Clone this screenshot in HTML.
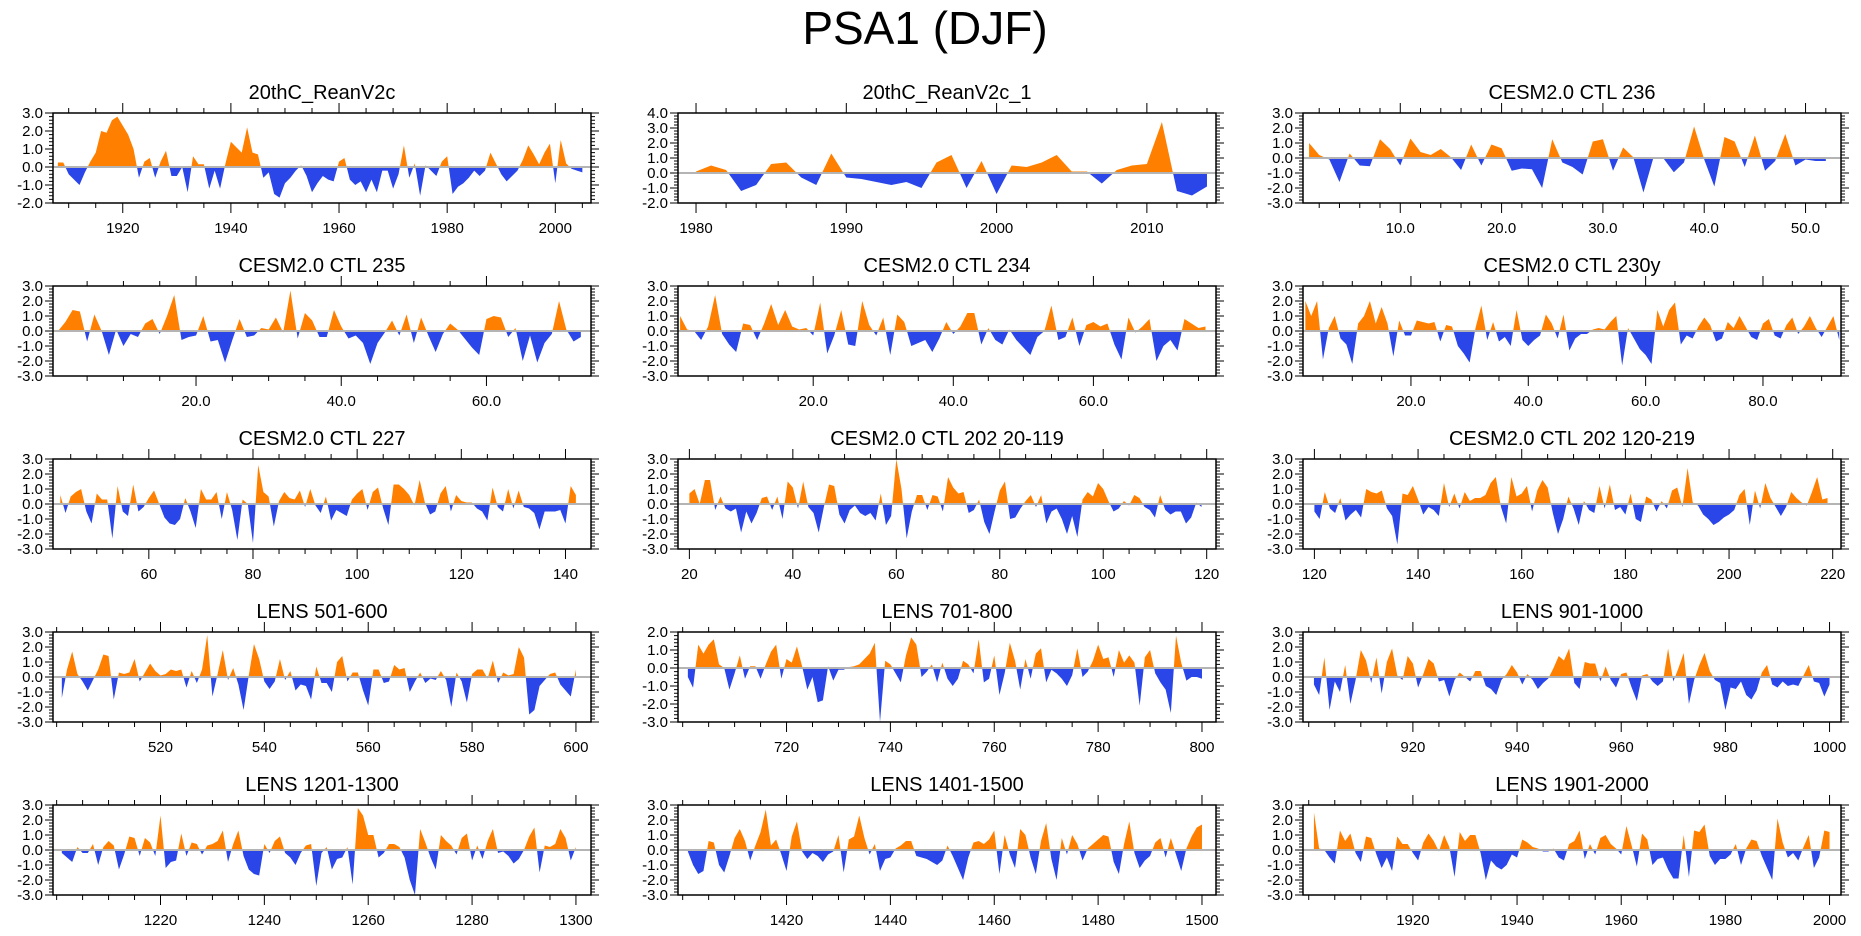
<!DOCTYPE html>
<html><head><meta charset="utf-8"><title>PSA1 (DJF)</title>
<style>
html,body{margin:0;padding:0;background:#fff;}
svg{display:block;font-family:"Liberation Sans",sans-serif;}
</style></head>
<body>
<svg id="chart" width="1861" height="936" viewBox="0 0 1861 936" xmlns="http://www.w3.org/2000/svg">
<rect width="1861" height="936" fill="#fff"/>
<text x="925" y="44" font-size="46" text-anchor="middle" fill="#000">PSA1 (DJF)</text>
</svg>
<script>
// ---- data arrays ----
const titles = ["20thC_ReanV2c","20thC_ReanV2c_1","CESM2.0 CTL 236","CESM2.0 CTL 235","CESM2.0 CTL 234","CESM2.0 CTL 230y","CESM2.0 CTL 227","CESM2.0 CTL 202 20-119","CESM2.0 CTL 202 120-219","LENS 501-600","LENS 701-800","LENS 901-1000","LENS 1201-1300","LENS 1401-1500","LENS 1901-2000"];
const startYears = [1908,1980,1,1,1,2,43,20,120,501,701,901,1201,1401,1901];
const xMins = [1907.1,1978.8,0.4,0.3,0.7,1.6,41.6,17.8,117.8,499.3,699.1,898.9,1199.3,1399.1,1898.9];
const xMaxs = [2006.6,2014.6,53.5,74.4,77.5,93.3,144.9,121.8,221.6,602.9,802.7,1002.2,1302.9,1502.7,2002.2];
const yMins = [-2,-2,-3,-3,-3,-3,-3,-3,-3,-3,-3,-3,-3,-3,-3];
const yMaxs = [3,4,3,3,3,3,3,3,3,3,2,3,3,3,3];
const xMajorTicks = [[1920,1940,1960,1980,2000],[1980,1990,2000,2010],[10,20,30,40,50],[20,40,60],[20,40,60],[20,40,60,80],[60,80,100,120,140],[20,40,60,80,100,120],[120,140,160,180,200,220],[520,540,560,580,600],[720,740,760,780,800],[920,940,960,980,1000],[1220,1240,1260,1280,1300],[1420,1440,1460,1480,1500],[1920,1940,1960,1980,2000]];
const xMinorSteps = [5,2,2,5,5,5,5,5,5,5,5,5,5,5,5];
const xLabelDecimals = [0,0,1,1,1,1,0,0,0,0,0,0,0,0,0];

const s0 = [0.25,0.25,-0.4,-0.7,-1.0,-0.3,0.3,0.8,2.0,1.9,2.6,2.8,2.3,1.8,1.0,-0.6,0.3,0.5,-0.6,0.3,0.9,-0.5,-0.5,0,-1.4,0.6,0.15,0.15,-1.2,-0.2,-1.2,0.2,1.4,1.1,0.8,2.2,0.8,0.7,-0.6,-0.3,-1.5,-1.7,-0.9,-0.6,-0.2,0.1,-0.5,-1.4,-0.9,-0.5,-0.7,-0.8,0.3,0.5,-0.7,-1.0,-0.8,-1.4,-0.7,-1.4,-0.2,-0.2,-1.2,-0.4,1.2,-0.6,0.2,-1.6,0.1,-0.2,-0.5,0.3,0.6,-1.5,-1.1,-0.9,-0.6,-0.2,-0.5,-0.2,0.8,0.2,-0.4,-0.8,-0.5,-0.2,0.4,1.2,0.7,0.15,0.8,1.3,-0.9,1.5,0.2,-0.1,-0.2,-0.3];
const s1 = [0.1,0.5,0.2,-1.2,-0.8,0.6,0.7,-0.3,-0.8,1.3,-0.3,-0.4,-0.6,-0.8,-0.6,-1.0,0.7,1.2,-1.0,0.8,-1.4,0.5,0.4,0.7,1.2,0.1,0.1,-0.7,0.2,0.5,0.6,3.4,-1.2,-1.5,-0.9];
const s2 = [1.0,0.2,-0.1,-1.6,0.3,-0.5,-0.55,1.25,0.6,-0.5,1.3,0.4,0.2,0.6,0.05,-0.8,0.9,-0.5,0.9,0.65,-0.85,-0.7,-0.75,-2.0,1.25,-0.3,-0.6,-1.1,1.1,1.25,-0.85,0.7,0.05,-2.3,0.05,-0.05,-0.95,-0.3,2.1,-0.1,-1.9,1.4,1.1,-0.6,1.5,-0.85,-0.2,1.6,-0.5,-0.1,-0.2,-0.2];
const s3 = [0.0,0.6,1.4,1.3,-0.7,1.1,0.0,-1.6,0.1,-1.0,-0.2,-0.4,0.5,0.8,-0.2,1.0,2.4,-0.6,-0.4,-0.3,1.0,-0.7,-0.6,-2.1,-0.6,0.8,-0.4,-0.3,0.2,0.1,0.9,-0.1,2.7,-0.5,1.2,0.7,-0.4,-0.4,1.4,0.3,-0.5,-0.3,-0.8,-2.2,-0.8,-0.1,0.7,-0.3,1.1,-0.8,0.9,-0.3,-1.4,-0.2,0.5,0.1,-0.5,-1.1,-1.6,0.8,1.0,0.9,-0.4,0.2,-2.0,-0.3,-2.1,-0.8,-0.2,2.0,0.1,-0.7,-0.4];
const s4 = [1.0,0.1,0.0,-0.6,0.3,2.4,-0.2,-0.9,-1.4,0.5,0.4,-0.6,0.5,1.8,0.4,1.4,0.3,0.1,0.2,-0.3,1.9,-1.5,-0.3,1.4,-0.9,-1.0,2.0,0.4,-0.3,0.9,-1.6,1.1,0.6,-1.0,-0.8,-0.6,-1.4,-0.5,0.6,-0.2,0.3,1.2,1.2,-0.9,0.2,-0.6,-0.9,0.1,-0.6,-1.1,-1.6,-0.4,0.0,1.7,-0.6,-0.4,0.9,-1.0,0.4,0.6,0.3,0.5,-0.9,-1.9,0.9,-0.1,0.3,0.8,-2.0,-1.0,-0.6,-1.3,0.8,0.5,0.2,0.3];
const s5 = [2.0,1.0,2.0,-1.9,0.2,1.0,-0.5,-0.9,-2.2,0.5,1.0,2.0,0.5,1.6,0.5,-1.7,0.7,-0.3,-0.3,0.7,0.6,0.5,0.6,-0.7,0.4,0.3,-1.0,-1.5,-2.1,0.2,1.7,-0.6,0.6,-0.7,-0.4,-1.0,1.4,-0.6,-1.0,-0.6,-0.3,1.1,0.5,-0.5,1.1,-1.3,-0.5,-0.2,-0.2,0.1,0.2,0.1,0.6,1.0,-2.3,0.2,-0.5,-1.2,-1.6,-2.2,1.4,0.3,1.4,1.9,-0.9,-0.3,-0.5,0.3,0.9,0.4,-0.7,-0.5,0.6,0.2,1.0,0.3,-0.4,-0.6,0.5,0.8,-0.3,-0.5,0.4,0.9,-0.2,0.3,1.0,0.2,-0.4,0.3,1.0,-0.6];
const s6 = [0.6,-0.6,0.5,0.8,1.0,-0.5,-1.3,0.7,0.3,0.3,-2.3,1.2,-0.5,-0.8,1.3,-0.5,-0.2,0.4,0.9,0.0,-0.9,-1.3,-1.4,-1.0,0.4,-0.5,-1.6,1.0,0.3,0.3,0.8,-1.0,0.8,-0.4,-2.4,0.3,0.0,-2.6,2.6,0.8,0.5,-1.5,0.2,0.8,0.4,0.3,0.9,-0.2,1.0,-0.1,-0.6,0.5,-1.1,-0.4,-0.6,-0.8,0.3,0.7,1.0,-0.4,0.8,1.1,-0.3,-1.4,1.3,1.3,1.0,0.6,-0.1,1.6,0.1,-0.7,-0.5,0.7,1.2,-0.5,0.6,0.2,0.1,0.1,-0.3,-0.5,-1.1,1.1,-0.2,-0.5,1.0,-0.3,0.9,-0.2,-0.3,-0.6,-1.7,-0.5,-0.5,-0.5,-0.4,-1.3,1.2,0.6];
const s7 = [0.7,1.0,0.0,1.6,1.6,-0.4,0.5,-0.3,-0.5,-0.3,-1.9,-0.5,-1.3,-0.6,0.4,0.5,-0.4,0.5,-1.0,1.5,1.1,-0.3,1.5,-0.2,-0.6,-1.9,-0.2,1.3,1.2,-0.7,-1.3,-0.4,-0.1,-0.6,-0.8,-0.6,-1.1,0.7,-1.4,-0.8,3.0,1.0,-2.3,-0.5,0.6,0.6,-0.4,0.6,0.5,-0.5,1.8,1.1,0.7,0.8,-0.6,-0.4,0.3,-1.2,-2.0,-0.5,0.9,1.5,-1.0,-0.9,-0.3,0.2,0.6,-0.2,0.6,-1.3,-0.5,-0.3,-1.0,-2.0,-0.8,-2.2,0.3,0.8,0.5,1.4,1.0,0.2,-0.5,-0.3,0.2,-0.1,0.6,0.4,-0.2,-0.4,-0.9,0.6,-0.4,-0.7,-0.5,-0.5,-1.3,-0.9,0.1,-0.2];
const s8 = [-0.5,-1.0,0.8,-0.3,-0.6,0.4,-1.1,-0.7,-0.4,-0.9,1.0,0.8,0.7,0.9,-0.3,-0.8,-2.7,0.7,0.6,1.2,0.3,-0.7,-0.2,-0.4,-0.8,1.4,-0.2,0.7,-0.3,0.8,0.2,0.4,0.4,0.6,1.4,1.8,-0.2,-1.3,1.8,0.5,0.7,1.2,-0.5,0.9,1.6,1.1,-0.6,-2.0,-1.0,0.5,-0.3,-1.4,0.2,-0.4,-0.6,1.2,-0.3,1.3,-0.4,-0.2,-0.7,0.7,-1.0,-1.2,0.5,0.3,-0.5,0.2,-0.3,0.9,1.1,-0.2,2.4,0.1,-0.1,-0.7,-1.0,-1.4,-1.2,-0.9,-0.7,-0.4,0.6,1.0,-1.4,0.9,-0.3,1.4,0.4,-0.2,-0.8,-0.2,0.8,0.4,0.1,-0.1,0.8,1.8,0.3,0.4];
const s9 = [-1.4,0.5,1.7,0.2,-0.3,-0.9,-0.2,0.5,1.5,1.4,-1.5,0.3,0.2,0.3,1.2,-0.3,0.3,0.9,0.4,0.1,0.2,0.5,0.4,0.5,-0.7,0.4,-0.4,0.5,2.8,-1.3,0.2,1.8,-0.2,0.6,-0.5,-2.2,0.1,2.2,1.2,-0.3,-0.8,-0.3,1.2,-0.2,0.4,-0.9,-0.5,-0.6,-1.5,0.7,-0.4,-0.4,-1.0,1.0,1.4,-0.3,0.3,0.3,-0.9,-1.9,0.5,0.5,-0.4,-0.3,0.8,0.5,0.6,-1.0,-0.3,0.3,-0.4,-0.1,-0.2,0.4,-0.2,-2.0,0.3,-0.3,-1.7,0.2,0.5,0.5,-0.1,1.1,-0.4,0.3,0.1,0.2,2.0,1.3,-2.5,-2.2,-0.6,-0.2,0.2,0.3,-0.5,-0.9,-1.3,0.5];
const s10 = [-0.5,-1.1,1.3,0.8,1.3,1.6,0.2,0.0,-1.2,-0.3,0.7,-0.6,0.1,0.1,-0.6,0.2,0.9,1.3,-0.6,0.5,0.3,1.2,0.1,-1.2,-0.5,-1.9,-1.8,0.1,-0.7,-0.1,-0.1,0.05,0.1,0.2,0.5,0.8,1.4,-3.0,0.4,0.2,-0.3,-0.8,0.7,1.7,1.3,-0.5,-0.2,0.2,-0.8,0.3,-0.6,-1.0,-0.6,0.4,0.2,-0.3,1.6,-0.8,-0.6,0.7,-1.5,-0.3,1.4,0.4,-1.2,0.5,-0.6,0.8,1.1,-0.8,-0.1,-0.3,-0.6,-1.0,-0.4,1.1,-0.5,-0.2,0.4,1.3,0.5,0.6,-0.5,1.0,0.3,0.7,0.3,-2.1,0.6,1.0,-0.3,-0.8,-1.2,-2.5,1.8,0.3,-0.7,-0.5,-0.5,-0.6];
const s11 = [-0.5,-1.2,1.3,-2.2,-0.3,-1.0,0.8,-1.8,-0.2,1.8,1.1,-0.4,1.3,-1.1,1.0,1.9,0.1,-0.2,1.4,0.9,-0.7,0.2,1.2,0.9,-0.3,-0.2,-1.3,-0.2,0.3,0.0,-0.3,0.4,0.4,-0.6,-0.8,-1.2,-0.2,0.2,0.8,0.3,-0.5,0.2,-0.2,-0.8,-0.4,-0.1,0.6,1.4,1.1,1.9,-0.4,-0.8,1.0,0.9,0.9,-0.3,0.7,-0.2,-0.7,0.2,0.3,-0.7,-1.6,0.1,0.2,-0.3,-0.6,-0.3,1.9,-0.3,0.6,1.6,-1.8,-0.2,0.8,1.6,0.4,-0.2,-0.4,-2.2,-0.7,-0.8,-0.3,-1.2,-1.5,-0.9,0.3,0.8,-0.5,-0.7,-0.3,-0.6,-0.5,-0.6,0.1,0.8,-0.3,-0.4,-1.3,-0.5];
const s12 = [-0.2,-0.5,-0.8,0.2,-0.2,-0.2,0.4,-1.0,0.2,0.6,0.3,-1.3,-0.3,0.9,0.8,-0.4,0.8,0.5,-0.4,2.3,-1.2,-0.8,-0.7,1.1,-0.4,0.5,0.4,-0.3,0.3,0.4,0.6,1.3,-0.8,0.4,1.3,-0.4,-1.3,-1.6,-1.7,0.4,-0.2,0.6,0.9,-0.2,-0.5,-1.0,-0.2,0.3,0.4,-2.4,-0.2,0.2,-1.3,-0.6,-0.5,0.2,-2.3,2.8,2.3,1.0,1.0,-0.5,-0.2,0.4,0.4,0.2,-0.5,-2.0,-3.0,1.4,0.5,-0.5,-1.3,1.0,0.6,0.3,-0.3,0.8,1.1,-0.7,0.3,-0.6,0.6,1.4,-0.2,-0.1,-0.4,-0.9,-0.6,0.0,0.9,1.5,-1.5,0.3,0.2,0.4,1.4,0.8,-0.7,0.2];
const s13 = [-0.1,-1.0,-1.6,-1.4,0.6,0.5,-1.0,-1.5,-0.4,0.8,1.4,0.6,-0.7,0.3,1.2,2.7,0.3,0.7,-0.3,-1.4,0.9,1.9,-0.1,-0.6,-0.2,-0.4,-0.8,-0.3,-0.1,1.0,-1.5,0.7,0.9,2.3,0.8,-0.3,0.4,-1.4,-0.6,-0.5,0.1,0.3,0.6,0.6,-0.4,-0.5,-0.6,-0.8,-1.0,-0.7,0.3,-0.4,-1.2,-2.0,-0.5,0.5,0.6,0.4,0.7,1.3,-1.6,1.0,-0.3,-1.2,1.4,1.0,-0.5,-1.6,0.6,1.8,-0.6,-2.0,0.8,-0.3,1.0,0.4,-0.7,0.1,0.4,0.7,1.0,0.9,-0.8,-1.6,0.4,1.9,-0.2,-1.2,-0.7,-0.4,0.5,0.8,-0.5,0.8,-0.3,-1.4,0.1,0.9,1.5,1.7];
const s14 = [2.5,0.1,0.0,-0.5,-0.9,1.3,0.6,1.1,-0.2,-0.8,0.9,0.8,-0.3,-1.2,-0.5,-1.4,0.9,0.4,0.4,-0.2,-0.7,0.5,1.1,0.6,-0.1,1.0,0.2,-1.8,1.2,0.6,1.0,1.0,-0.2,-2.0,-0.7,-1.1,-1.3,-1.0,-0.3,-0.5,0.7,0.5,0.2,0.1,-0.1,-0.1,0.1,-0.5,-0.7,0.4,0.6,1.3,-0.6,0.4,-0.3,0.8,1.0,0.4,0.1,-0.3,1.6,0.3,-1.1,1.1,0.7,-1.0,-0.6,-0.5,-1.3,-1.9,-1.9,1.0,-1.8,1.3,1.2,1.7,-0.4,-1.0,-0.6,-0.6,-0.3,0.4,-1.0,0.1,0.7,0.6,-0.4,-1.2,-2.0,2.1,0.5,-0.5,-0.2,-0.7,0.2,1.0,-1.2,-0.5,1.3,1.2];
const series = [s0,s1,s2,s3,s4,s5,s6,s7,s8,s9,s10,s11,s12,s13,s14];

// ---- layout ----
const colLeft = [53,678,1303];
const plotW = 538;
const rowTop = [113,286,459,632,805];
const plotH = 90;
const NS = 'http://www.w3.org/2000/svg';
const svg = document.getElementById('chart');
function mk(tag, attrs, parent){
  const e = document.createElementNS(NS, tag);
  for (const k in attrs) e.setAttribute(k, attrs[k]);
  (parent||svg).appendChild(e);
  return e;
}

for (let p = 0; p < 15; p++) {
  const L = colLeft[p % 3], T = rowTop[Math.floor(p / 3)], R = L + plotW, B = T + plotH;
  const xmin = xMins[p], xmax = xMaxs[p], ymin = yMins[p], ymax = yMaxs[p];
  const xs = v => L + (v - xmin) / (xmax - xmin) * plotW;
  const ys = v => B - (v - ymin) / (ymax - ymin) * plotH;
  const g = mk('g', {});
  
  

  const t = mk('text', {x: (L + R) / 2, y: T - 14, 'font-size': 20, 'text-anchor': 'middle', fill: '#000'}, g);
  t.textContent = titles[p];
  
  

  // area fills
  const vals = series[p], st = startYears[p];
  let pos = '', neg = '';
  const y0 = ys(0);
  const ptsP = [], ptsN = [];
  for (let i = 0; i < vals.length; i++) {
    const xv = st + i, v = vals[i];
    if (i > 0) {
      const pv = vals[i - 1];
      if ((pv > 0 && v < 0) || (pv < 0 && v > 0)) {
        const xc = (xv - 1) + pv / (pv - v);
        ptsP.push([xs(xc), y0]); ptsN.push([xs(xc), y0]);
      }
    }
    ptsP.push([xs(xv), ys(Math.max(v, 0))]);
    ptsN.push([xs(xv), ys(Math.min(v, 0))]);
  }
  const first = xs(st), last = xs(st + vals.length - 1);
  pos = 'M' + first + ',' + y0 + ' ' + ptsP.map(q => 'L' + q[0].toFixed(2) + ',' + q[1].toFixed(2)).join(' ') + ' L' + last + ',' + y0 + 'Z';
  neg = 'M' + first + ',' + y0 + ' ' + ptsN.map(q => 'L' + q[0].toFixed(2) + ',' + q[1].toFixed(2)).join(' ') + ' L' + last + ',' + y0 + 'Z';
  const ap = mk('path', {d: pos, fill: '#ff8000'}, g);
  
  
  const an = mk('path', {d: neg, fill: '#2a45e8'}, g);
  
  

  const zl = mk('line', {x1: L, x2: R, y1: y0, y2: y0, stroke: '#b4b4b4', 'stroke-width': 2}, g);
  
  

  // frame
  const fr = mk('rect', {x: L, y: T, width: plotW, height: plotH, fill: 'none', stroke: '#000', 'stroke-width': 1.5}, g);
  
  

  // x ticks
  const ms = xMinorSteps[p];
  let tp = '';
  for (let v = Math.ceil(xmin / ms) * ms; v <= xmax; v += ms) {
    const X = xs(v).toFixed(2);
    const major = xMajorTicks[p].indexOf(v) >= 0;
    const len = major ? 10 : 5;
    tp += 'M' + X + ',' + T + 'v' + (-len) + 'M' + X + ',' + B + 'v' + len;
  }
  // y ticks
  for (let k = 0; k <= (ymax - ymin) * 5; k++) {
    const v = ymin + k * 0.2;
    const Y = ys(v).toFixed(2);
    const major = k % 5 === 0;
    const len = major ? 8 : 4;
    tp += 'M' + L + ',' + Y + 'h' + (-len) + 'M' + R + ',' + Y + 'h' + len;
  }
  const tk = mk('path', {d: tp, stroke: '#000', 'stroke-width': 1, fill: 'none'}, g);
  
  

  xMajorTicks[p].forEach(v => {
    const tl = mk('text', {x: xs(v), y: B + 30, 'font-size': 15, 'text-anchor': 'middle', fill: '#000'}, g);
    tl.textContent = v.toFixed(xLabelDecimals[p]);
    
    
  });
  for (let v = ymin; v <= ymax; v++) {
    const yl = mk('text', {x: L - 10, y: ys(v) + 5, 'font-size': 15, 'text-anchor': 'end', fill: '#000'}, g);
    yl.textContent = v.toFixed(1);
    
    
  }
}
</script>
</body></html>
